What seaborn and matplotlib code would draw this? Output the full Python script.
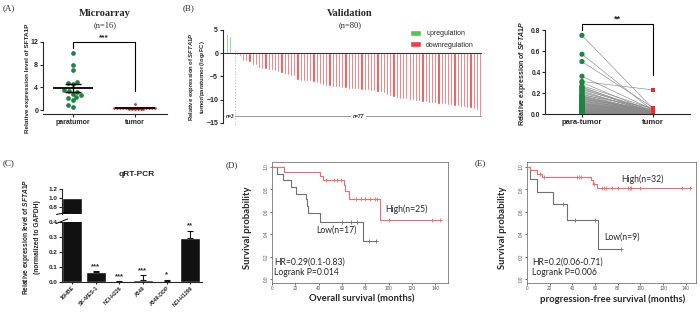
import numpy as np
import pandas as pd
import matplotlib.pyplot as plt
import seaborn as sns

sns.set_style("ticks")
plt.rcParams['font.family'] = ['Liberation Sans', 'DejaVu Sans']
plt.rcParams['font.weight'] = 'bold'
plt.rcParams['mathtext.fontset'] = 'custom'
plt.rcParams['mathtext.it'] = 'Liberation Sans:italic:bold'
plt.rcParams['mathtext.rm'] = 'Liberation Sans:bold'
plt.rcParams['axes.linewidth'] = 0.8

# ---- data ----
# (A) microarray
para_a = [10.1, 8.0, 7.1, 5.0, 4.7, 4.6, 3.5, 3.4, 3.2, 2.9, 2.6, 2.3, 2.1, 1.7, 0.8, 0.6]
tumor_a = [0.3, 0.25, 0.35, 0.2, 0.3, 0.4, 0.25, 0.3, 0.2, 0.35, 0.3, 1.1, 0.25, 0.3, 0.2, 0.3]

# (B) validation waterfall (log2FC)
up_b = [4.2, 3.8, 0.3]
down_b = [-0.3, -0.6, -1.7, -1.7, -1.8, -2.5, -2.6, -3.2, -3.3, -3.4,
          -3.5, -3.7, -3.9, -4.1, -4.3, -4.5, -4.6, -4.8, -5.0, -5.8,
          -5.9, -5.9, -6.0, -6.0, -6.2, -6.4, -6.7, -6.8, -7.0, -7.1,
          -7.2, -7.3, -7.3, -7.4, -7.5, -7.6, -7.6, -7.7, -7.7, -7.8,
          -7.9, -8.0, -8.1, -8.2, -8.3, -8.4, -8.6, -9.0, -9.2, -9.4,
          -9.6, -9.8, -9.8, -9.9, -10.0, -10.1, -10.2, -10.3, -10.4, -10.5,
          -10.6, -10.7, -10.8, -10.9, -11.0, -11.0, -11.1, -11.2, -11.3, -11.4,
          -11.5, -11.6, -11.7, -11.8, -12.0, -12.3, -13.5]

# (B) paired expression
para_b = [0.75, 0.57, 0.50, 0.36, 0.31, 0.30, 0.27, 0.26, 0.25, 0.24,
          0.23, 0.22, 0.21, 0.20, 0.19, 0.18, 0.175, 0.17, 0.165, 0.16,
          0.155, 0.15, 0.145, 0.14, 0.135, 0.13, 0.125, 0.12, 0.115, 0.11,
          0.105, 0.10, 0.10, 0.095, 0.09, 0.09, 0.085, 0.08, 0.08, 0.075,
          0.07, 0.07, 0.065, 0.06, 0.06, 0.055, 0.05, 0.05, 0.045, 0.045,
          0.04, 0.04, 0.035, 0.035, 0.03, 0.03, 0.028, 0.025, 0.025, 0.022,
          0.02, 0.02, 0.018, 0.016, 0.015, 0.014, 0.012, 0.011, 0.01, 0.009,
          0.008, 0.007, 0.006, 0.005, 0.004, 0.004, 0.003, 0.002, 0.002, 0.001]
tumor_b = [0.05, 0.03, 0.06, 0.04, 0.23, 0.02, 0.05, 0.01, 0.03, 0.02,
           0.04, 0.01, 0.02, 0.03, 0.01, 0.06, 0.02, 0.01, 0.03, 0.02,
           0.01, 0.02, 0.01, 0.04, 0.01, 0.02, 0.01, 0.03, 0.01, 0.02,
           0.01, 0.01, 0.02, 0.01, 0.01, 0.02, 0.01, 0.01, 0.02, 0.01,
           0.01, 0.01, 0.01, 0.02, 0.01, 0.01, 0.01, 0.01, 0.01, 0.005,
           0.005, 0.01, 0.005, 0.01, 0.005, 0.005, 0.01, 0.005, 0.005, 0.005,
           0.005, 0.005, 0.004, 0.005, 0.004, 0.003, 0.004, 0.003, 0.003, 0.003,
           0.002, 0.002, 0.002, 0.002, 0.002, 0.001, 0.001, 0.001, 0.001, 0.001]

# (C) qRT-PCR
cells = ['16HBE', 'SK-MES-1', 'NCI-H226', 'A549', 'A549-DDP', 'NCI-H1299']
expr_c = [1.0, 0.065, 0.003, 0.015, 0.008, 0.295]
err_c = [0.0, 0.008, 0.001, 0.03, 0.008, 0.047]
stars_c = ['', '***', '***', '***', '*', '**']

# (D) overall survival
os_high_t = [0, 10, 41, 43.5, 61.5, 63, 66, 93, 145]
os_high_s = [1.0, 0.96, 0.92, 0.88, 0.84, 0.79, 0.71, 0.53, 0.53]
os_high_cens = [46, 53, 56, 59, 72, 76, 80, 84, 88, 90, 100, 137, 144]
os_low_t = [0, 4.5, 9.5, 16, 21, 29, 30, 31, 41, 78, 89]
os_low_s = [1.0, 0.94, 0.88, 0.82, 0.76, 0.71, 0.65, 0.59, 0.51, 0.34, 0.34]
os_low_cens = [60, 68, 73, 83, 89]

# (E) progression-free survival
pfs_high_t = [0, 2.5, 9, 13, 56, 58, 61.5, 145]
pfs_high_s = [1.0, 0.97, 0.94, 0.91, 0.88, 0.85, 0.81, 0.81]
pfs_high_cens = [11.5, 15, 44, 46, 48, 59, 66, 68, 70, 75, 80, 89, 91, 92, 100, 137, 144]
pfs_low_t = [0, 2.5, 9, 23, 35, 63, 83]
pfs_low_s = [1.0, 0.89, 0.78, 0.67, 0.53, 0.27, 0.27]
pfs_low_cens = [32, 42, 60, 83]

GREEN_DOT = '#1e8540'
RED_DOT = '#ee2a2a'
GREEN_BAR = '#55c255'
RED_BAR = '#f03c3c'
KM_RED = '#f26a6a'
KM_GRAY = '#707070'

W, H = 700, 315
fig = plt.figure(figsize=(7, 3.15), dpi=100)


def box(l, t, r, b):
    return [l / W, 1 - b / H, (r - l) / W, (b - t) / H]


def ftext(x, y, s, **kw):
    fig.text(x / W, 1 - y / H, s, **kw)


SERIF = ['Liberation Serif', 'DejaVu Serif']
KMFONT = ['Lato', 'DejaVu Sans']

# ---------------- (A) ----------------
axA = fig.add_axes(box(43, 42, 167, 114))
dfA = pd.DataFrame({'group': ['paratumor'] * len(para_a) + ['tumor'] * len(tumor_a),
                    'value': para_a + tumor_a})
sns.swarmplot(data=dfA[dfA.group == 'paratumor'], x='group', y='value', color=GREEN_DOT,
              size=3.4, ax=axA, order=['paratumor', 'tumor'])
sns.swarmplot(data=dfA[dfA.group == 'tumor'], x='group', y='value', color=RED_DOT,
              size=2.0, ax=axA, order=['paratumor', 'tumor'])
for i, vals in enumerate([para_a, tumor_a]):
    m = np.mean(vals)
    se = np.std(vals, ddof=1) / np.sqrt(len(vals))
    axA.hlines(m, i - 0.32, i + 0.32, color='k', lw=1.3, zorder=5)
    axA.errorbar(i, m, yerr=se, color='k', lw=1.0, capsize=6, capthick=1.0, zorder=5)
axA.set_xlim(-0.48, 1.52)
axA.set_ylim(-0.7, 12)
axA.set_yticks([0, 4, 8, 12])
axA.set_xlabel('')
axA.set_ylabel('')
axA.tick_params(labelsize=5, length=2, width=0.8, pad=1.5)
sns.despine(ax=axA)
axA.spines['left'].set_bounds(0, 12)
axA.plot([0, 0, 1, 1], [11.0, 12.05, 12.05, 3.3], color='k', lw=0.8, clip_on=False)
axA.text(0.5, 12.2, '***', ha='center', va='bottom', fontsize=6, clip_on=False)
ftext(27.5, 78, 'Relative expression level of SFTA1P', rotation=90, ha='center', va='center', fontsize=4.6)
ftext(105, 13, 'Microarray', family=SERIF, fontsize=7.5, ha='center', va='center')
ftext(105, 25, '(n=16)', family=SERIF, fontsize=6, ha='center', va='center', weight='normal')
ftext(3, 8, '(A)', family=SERIF, fontsize=6.5, va='center', weight='normal')

# ---------------- (B) waterfall ----------------
axB = fig.add_axes(box(223, 30, 482, 123))
vals_b = up_b + down_b
dfB = pd.DataFrame({'idx': np.arange(len(vals_b)), 'fc': vals_b,
                    'dir': ['upregulation'] * len(up_b) + ['downregulation'] * len(down_b)})
sns.barplot(data=dfB, x='idx', y='fc', hue='dir', hue_order=['upregulation', 'downregulation'],
            palette=[GREEN_BAR, RED_BAR], dodge=False, width=0.68, saturation=1, ax=axB)
axB.axhline(0, color='#333333', lw=0.8, zorder=3)
axB.set_xlim(-1.25, 79.6)
axB.set_ylim(-15, 5)
axB.set_yticks([5, 0, -5, -10, -15])
axB.set_xticks([])
axB.set_xlabel('')
axB.set_ylabel('')
axB.tick_params(labelsize=5, length=2, width=0.8, pad=1.5)
sns.despine(ax=axB, bottom=True)
axB.vlines(2.6, -15.5, 1.0, color='#bbbbbb', lw=0.8, ls=':', clip_on=False)
axB.hlines(-13.5, -1.0, 79.6, color='#999999', lw=0.7)
axB.text(0.9, -13.5, 'n=3', ha='center', va='center', fontsize=3.5, style='italic',
         bbox=dict(facecolor='white', edgecolor='none', pad=0.5))
axB.text(41, -13.5, 'n=77', ha='center', va='center', fontsize=3.5, style='italic',
         bbox=dict(facecolor='white', edgecolor='none', pad=1.5))
sns.move_legend(axB, 'upper left', bbox_to_anchor=(404 / W, 1 - 24 / H), bbox_transform=fig.transFigure,
                frameon=False, title=None, fontsize=5, handlelength=1.5, handleheight=0.8,
                labelspacing=0.6, handletextpad=0.8)
for t in axB.get_legend().get_texts():
    t.set_fontweight('normal')
ftext(197, 77, r'Relative expression of $\it{SFTA1P}$' + '\n' + r'tumor/paratumor (log$_2$FC)',
      rotation=90, ha='center', va='center', fontsize=4.2, linespacing=1.2)
ftext(350, 13, 'Validation', family=SERIF, fontsize=7.5, ha='center', va='center')
ftext(350, 25, '(n=80)', family=SERIF, fontsize=6, ha='center', va='center', weight='normal')
ftext(183, 8, '(B)', family=SERIF, fontsize=6.5, va='center', weight='normal')

# ---------------- (B) paired ----------------
axP = fig.add_axes(box(545, 28, 690, 114))
n_b = len(para_b)
dfP = pd.DataFrame({'pair': list(range(n_b)) * 2,
                    'pos': [0] * n_b + [1] * n_b,
                    'value': para_b + tumor_b})
sns.lineplot(data=dfP, x='pos', y='value', units='pair', estimator=None, color='#8a8a8a',
             lw=0.45, ax=axP, legend=False)
sns.scatterplot(data=dfP[dfP.pos == 0], x='pos', y='value', color=GREEN_DOT, s=14,
                edgecolor='none', ax=axP, zorder=4)
sns.scatterplot(data=dfP[dfP.pos == 1], x='pos', y='value', color=RED_DOT, s=6, marker='s',
                edgecolor='none', ax=axP, zorder=4)
axP.set_xlim(-0.52, 1.52)
axP.set_ylim(0, 0.82)
axP.set_yticks([0.0, 0.2, 0.4, 0.6, 0.8])
axP.set_xticks([0, 1])
axP.set_xticklabels(['para-tumor', 'tumor'])
axP.set_xlabel('')
axP.set_ylabel('')
axP.tick_params(axis='y', labelsize=4.8, length=2, width=0.8, pad=1.2)
axP.tick_params(axis='x', labelsize=5.5, length=2, width=0.8, pad=1.5)
sns.despine(ax=axP)
axP.spines['left'].set_bounds(0, 0.8)
axP.plot([0, 0, 1, 1], [0.8, 0.855, 0.855, 0.37], color='k', lw=0.8, clip_on=False)
axP.text(0.5, 0.865, '**', ha='center', va='bottom', fontsize=6.5, clip_on=False)
ftext(522, 73, r'Relative expression of $\it{SFTA1P}$', rotation=90, ha='center', va='center',
      fontsize=5)

# ---------------- (C) ----------------
axCt = fig.add_axes(box(62, 189, 202, 214))
axCb = fig.add_axes(box(62, 222, 202, 282))
for ax in (axCt, axCb):
    sns.barplot(x=cells, y=expr_c, color='#111111', width=0.85, saturation=1, ax=ax)
    ax.set_xlim(-0.43, 5.5)
axCb.errorbar(np.arange(len(cells)), expr_c, yerr=[np.zeros(len(cells)), err_c], fmt='none',
              ecolor='#111111', lw=0.8, capsize=2.5, capthick=0.8)
axCt.set_ylim(0.65, 1.2)
axCt.set_yticks([0.8, 1.0, 1.2])
axCt.set_xticks([])
sns.despine(ax=axCt, bottom=True)
axCb.set_ylim(0, 0.4)
axCb.set_yticks([0.0, 0.1, 0.2, 0.3, 0.4])
sns.despine(ax=axCb)
axCb.set_xticks(range(len(cells)))
axCb.set_xticklabels(cells, rotation=45, ha='right', rotation_mode='anchor')
for ax in (axCt, axCb):
    ax.tick_params(labelsize=4.6, length=2, width=0.8, pad=1.5)
axCb.tick_params(axis='x', labelsize=3.8, length=1.5, pad=1.0)
for i, s in enumerate(stars_c):
    if s:
        axCb.text(i, expr_c[i] + err_c[i] + 0.008, s, ha='center', va='bottom', fontsize=5.5)
axCt.plot([-0.04, 0.04], [0.64, 0.69], transform=axCt.get_yaxis_transform(), color='k', lw=0.7,
          clip_on=False)
axCb.plot([-0.04, 0.04], [0.39, 0.42], transform=axCb.get_yaxis_transform(), color='k', lw=0.7,
          clip_on=False)
ftext(137, 175, 'qRT-PCR', fontsize=6, ha='center', va='center')
ftext(31, 237, r'Relative expression level of $\it{SFTA1P}$' + '\n(normalized to GAPDH)', rotation=90,
      ha='center', va='center', fontsize=4.8, linespacing=1.3)
ftext(3, 163, '(C)', family=SERIF, fontsize=6.5, va='center', weight='normal')


# ---------------- (D)/(E) Kaplan-Meier ----------------
def step_at(times, surv, t):
    k = np.searchsorted(times, t, side='right') - 1
    return surv[k]


def km_panel(ax, curves, xmax):
    for t, s, cens, col in curves:
        sns.lineplot(x=t, y=s, drawstyle='steps-post', estimator=None, sort=False, color=col,
                     lw=0.8, ax=ax)
        cy = [step_at(t, s, c) for c in cens]
        sns.scatterplot(x=cens, y=cy, marker='+', s=10, color=col, linewidth=0.6, ax=ax, zorder=4)
    ax.set_xlim(0, xmax)
    ax.set_ylim(-0.036, 1.045)
    ax.set_xticks(range(0, 141, 20))
    ax.set_yticks([0.0, 0.2, 0.4, 0.6, 0.8, 1.0])
    ax.tick_params(colors='#555555', labelsize=3.4, length=1.5, width=0.6, pad=1.0)
    for lab in ax.get_yticklabels():
        lab.set_rotation(90)
        lab.set_va('center')
        lab.set_fontweight('normal')
    for lab in ax.get_xticklabels():
        lab.set_fontweight('normal')
    for sp in ax.spines.values():
        sp.set_color('#777777')
        sp.set_linewidth(0.6)
    ax.set_xlabel('')
    ax.set_ylabel('')


axD = fig.add_axes(box(272, 162, 448, 283))
km_panel(axD, [(os_low_t, os_low_s, os_low_cens, KM_GRAY),
               (os_high_t, os_high_s, os_high_cens, KM_RED)], 151)
axD.text(97, 0.625, 'High(n=25)', family=KMFONT, weight='normal', fontsize=6.2, va='center')
axD.text(38, 0.44, 'Low(n=17)', family=KMFONT, weight='normal', fontsize=6.2, va='center')
axD.text(2, 0.15, 'HR=0.29(0.1-0.83)', family=KMFONT, weight='normal', fontsize=6.2, va='center')
axD.text(2, 0.06, 'Logrank P=0.014', family=KMFONT, weight='normal', fontsize=6.2, va='center')
ftext(248, 228, 'Survival probability', family=KMFONT, rotation=90, ha='center', va='center', fontsize=6.8)
ftext(362, 299, 'Overall survival (months)', family=KMFONT, ha='center', va='center', fontsize=6.8)
ftext(226, 165, '(D)', family=SERIF, fontsize=6.5, va='center', weight='normal')

axE = fig.add_axes(box(527, 162, 696, 283))
km_panel(axE, [(pfs_low_t, pfs_low_s, pfs_low_cens, KM_GRAY),
               (pfs_high_t, pfs_high_s, pfs_high_cens, KM_RED)], 149)
axE.text(83, 0.89, 'High(n=32)', family=KMFONT, weight='normal', fontsize=6.2, va='center')
axE.text(68, 0.37, 'Low(n=9)', family=KMFONT, weight='normal', fontsize=6.2, va='center')
axE.text(4.5, 0.15, 'HR=0.2(0.06-0.71)', family=KMFONT, weight='normal', fontsize=6.2, va='center')
axE.text(4.5, 0.06, 'Logrank P=0.006', family=KMFONT, weight='normal', fontsize=6.2, va='center')
ftext(503, 228, 'Survival probability', family=KMFONT, rotation=90, ha='center', va='center', fontsize=6.8)
ftext(613, 299, 'progression-free survival (months)', family=KMFONT, ha='center', va='center', fontsize=6.8)
ftext(475, 163, '(E)', family=SERIF, fontsize=6.5, va='center', weight='normal')

fig.savefig('out.png', dpi=100)
